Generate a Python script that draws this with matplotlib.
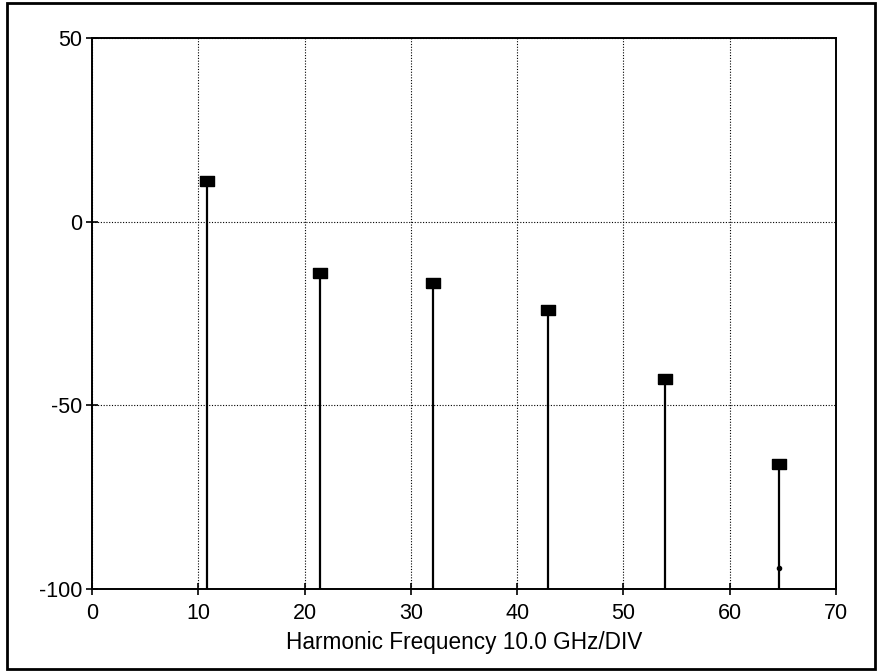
import matplotlib.pyplot as plt
from matplotlib.patches import Rectangle

plt.rcParams["font.family"] = ["Liberation Sans", "DejaVu Sans"]
plt.rcParams["axes.unicode_minus"] = False

# harmonic positions (GHz) and levels (dB)
harmonic_freq = [10.8, 21.45, 32.1, 42.9, 53.9, 64.6]
harmonic_level = [11.2, -14.1, -16.8, -24.1, -42.7, -65.9]
# small dot seen on the last stem
dot_freq = [64.6]
dot_level = [-94.4]

x_ticks = [0, 10, 20, 30, 40, 50, 60, 70]
y_ticks = [-100, -50, 0, 50]

# wide rectangle marker like the plotted squares
rect_marker = [(-1.3, -1), (1.3, -1), (1.3, 1), (-1.3, 1), (-1.3, -1)]

fig = plt.figure(figsize=(8.79, 6.71), dpi=100)
ax = fig.add_axes([0.1047, 0.1222, 0.8464, 0.8212])

ax.set_xlim(0, 70)
ax.set_ylim(-100, 50)
ax.set_xticks(x_ticks)
ax.set_yticks(y_ticks)
ax.grid(True, color="black", linestyle=(0, (1, 1.5)), linewidth=0.8)
ax.set_axisbelow(True)

ax.vlines(harmonic_freq, -100, harmonic_level, color="black", linewidth=1.6, zorder=3)
ax.plot(harmonic_freq, harmonic_level, linestyle="none", marker=rect_marker, markersize=10,
        color="black", zorder=4)
ax.plot(dot_freq, dot_level, linestyle="none", marker="o", markersize=3, color="black", zorder=4)

for side in ["left", "right", "top", "bottom"]:
    ax.spines[side].set_linewidth(1.4)
ax.tick_params(direction="inout", length=8, width=1.2, labelsize=15.5)
ax.tick_params(axis="x", pad=6)
ax.tick_params(axis="y", pad=3)

ax.set_xlabel("Harmonic Frequency 10.0 GHz/DIV", fontsize=16.3, labelpad=5)

# outer frame around the whole figure
fig.patches.append(Rectangle((0.008, 0.003), 0.988, 0.992, transform=fig.transFigure,
                             fill=False, edgecolor="black", linewidth=2))

fig.savefig("out.png", dpi=100)
